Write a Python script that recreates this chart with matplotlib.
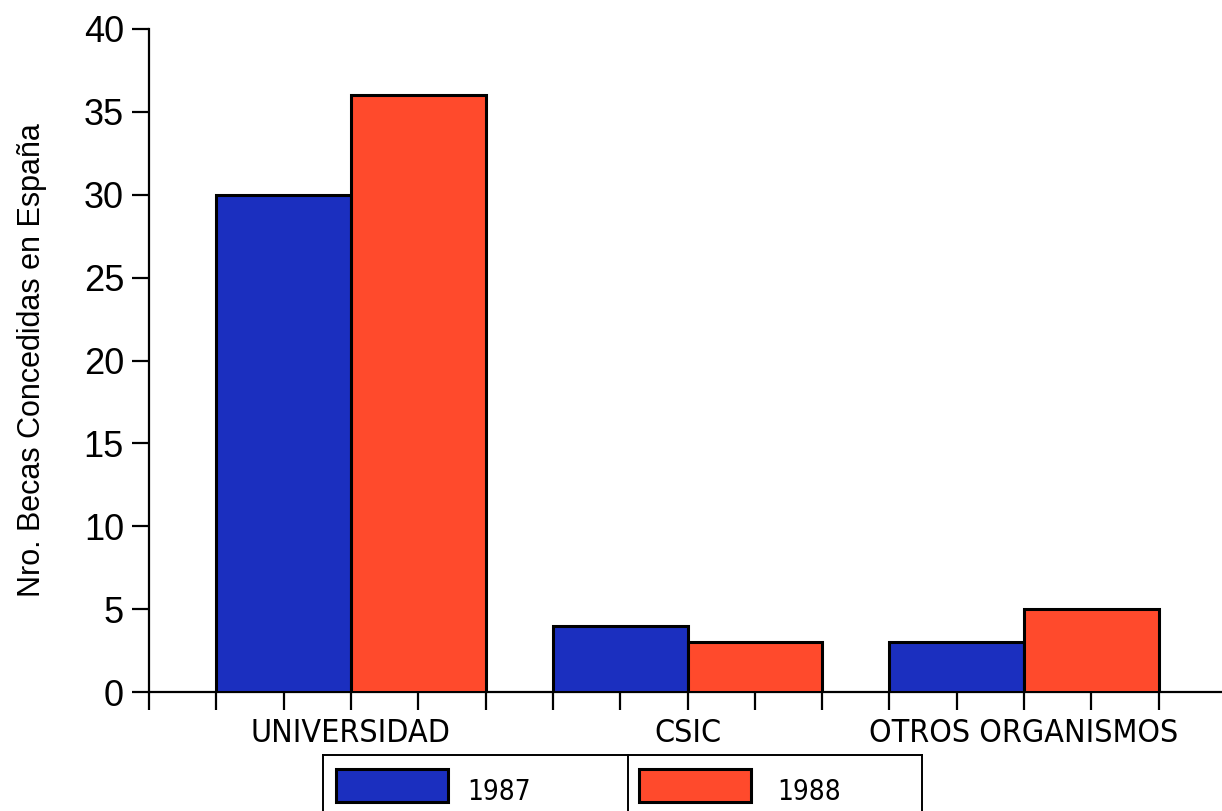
import matplotlib
matplotlib.use('Agg')
import matplotlib.pyplot as plt
from matplotlib import font_manager
from matplotlib.font_manager import FontProperties
from matplotlib.patches import Rectangle
from matplotlib.lines import Line2D
from matplotlib.transforms import blended_transform_factory

# Becas concedidas por organismo
categorias = ['UNIVERSIDAD', 'CSIC', 'OTROS ORGANISMOS']
becas_1987 = [30, 4, 3]
becas_1988 = [36, 3, 5]
anios = ['1987', '1988']
yticks = [0, 5, 10, 15, 20, 25, 30, 35, 40]

azul = '#1b2fbf'
rojo = '#ff4a2c'


# busca una sans estrecha para los rotulos; si no hay, Liberation Sans
def fuente_estrecha():
    for f in font_manager.fontManager.ttflist:
        nombre = f.name.lower()
        estrecha = ('narrow' in nombre or 'condensed' in nombre
                    or f.stretch in ('condensed', 'semi-condensed', 'extra-condensed'))
        if estrecha and 'sans' in nombre and f.style == 'normal' and f.weight in (400, 'normal', 'regular'):
            return f.fname
    return None


ruta = fuente_estrecha()
if ruta:
    tam_cat, tam_ley = 23, 20
else:
    tam_cat, tam_ley = 22, 20


def fp(tam):
    if ruta:
        return FontProperties(fname=ruta, size=tam)
    return FontProperties(family='Liberation Sans', size=tam)


plt.rcParams['font.family'] = ['Liberation Sans', 'DejaVu Sans']

W, H = 1222, 811
fig = plt.figure(figsize=(W / 100, H / 100), dpi=100)
ax = fig.add_axes([149 / W, 119 / H, (W - 149) / W, 663 / H])

# cada grupo ocupa dos unidades por año, con una unidad de separacion
inicio = [1 + 5 * i for i in range(len(categorias))]
ax.bar(inicio, becas_1987, width=2, align='edge', color=azul,
       edgecolor='black', linewidth=2.2, zorder=3)
ax.bar([x + 2 for x in inicio], becas_1988, width=2, align='edge', color=rojo,
       edgecolor='black', linewidth=2.2, zorder=3)

ax.set_xlim(0, 15.94)
ax.set_ylim(0, 40)
ax.set_xticks(range(16))
ax.set_xticklabels([])
ax.set_yticks(yticks)
ax.set_yticklabels([str(v) for v in yticks], fontsize=26)

for lado in ['top', 'right']:
    ax.spines[lado].set_visible(False)
ax.spines['left'].set_linewidth(1.6)
ax.spines['bottom'].set_linewidth(1.6)
ax.tick_params(axis='y', direction='out', length=12, width=1.6, pad=6)
ax.tick_params(axis='x', direction='out', length=13, width=1.6)

ax.set_ylabel('Nro. Becas Concedidas en España', fontsize=22)
ax.yaxis.set_label_coords(-0.095, 0.5)

trans = blended_transform_factory(ax.transData, ax.transAxes)
for x0, nombre in zip(inicio, categorias):
    ax.text(x0 + 2, -0.0754, nombre, transform=trans, ha='center',
            va='baseline', fontproperties=fp(tam_cat))


# leyenda en forma de tabla bajo el eje
def px(x, y):
    return x / W, 1 - y / H


x_izq, x_div, x_der, y_sup = 323, 628, 922, 755
for xa, ya, xb, yb in [(x_izq, y_sup, x_der, y_sup), (x_izq, y_sup, x_izq, H + 5),
                       (x_div, y_sup, x_div, H + 5), (x_der, y_sup, x_der, H + 5)]:
    a, b = px(xa, ya), px(xb, yb)
    fig.add_artist(Line2D([a[0], b[0]], [a[1], b[1]], color='black', lw=1.4))

for xp, xt, color, anio in [(336, 467, azul, anios[0]), (639, 777, rojo, anios[1])]:
    esq = px(xp, 802)
    fig.add_artist(Rectangle(esq, 112 / W, 33 / H, facecolor=color,
                             edgecolor='black', linewidth=2.2))
    pos = px(xt, 800)
    fig.text(pos[0], pos[1], anio, ha='left', va='baseline',
             fontproperties=fp(tam_ley))

fig.savefig('out.png', dpi=100)
